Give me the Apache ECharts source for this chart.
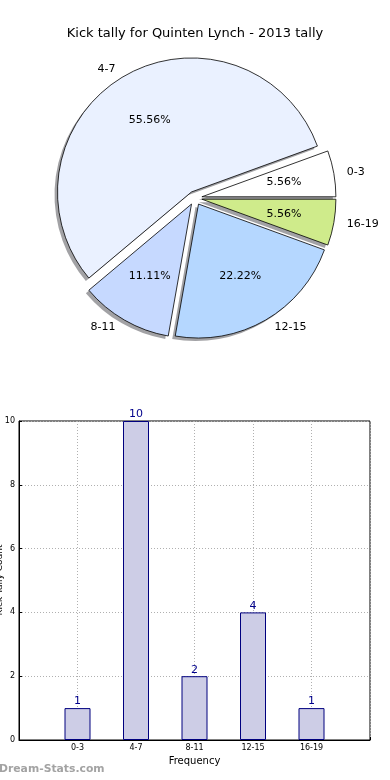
<!DOCTYPE html>
<html>
<head>
<meta charset="utf-8">
<script src="https://cdn.jsdelivr.net/npm/echarts@6/dist/echarts.min.js"></script>
<style>
html,body{margin:0;padding:0;background:#fff;}
#chart{width:390px;height:780px;}
</style>
</head>
<body>
<div id="chart"></div>
<script>
const titleText = 'Kick tally for Quinten Lynch - 2013 tally';
const categories = ['0-3', '4-7', '8-11', '12-15', '16-19'];
const counts = [1, 10, 2, 4, 1];
const pieColors = ['#ffffff', '#eaf1ff', '#c6d9ff', '#b5d7ff', '#cfeb8b'];
const yTicks = [0, 2, 4, 6, 8, 10];
const xAxisName = 'Frequency';
const yAxisName = 'Kick Tally Count';
const watermark = 'Dream-Stats.com';

const FONT = 'DejaVu Sans';
const total = counts.reduce((a, b) => a + b, 0);
const pieData = categories.map((c, i) => ({
  name: c, value: counts[i], selected: true,
  itemStyle: { color: pieColors[i] }
}));
const plainData = categories.map((c, i) => ({
  name: c, value: counts[i], selected: true
}));
const barCats = [''].concat(categories, ['']);
const barVals = ['-'].concat(counts, ['-']);

const CX = 195, CY = 198, R = 134;
const pieCommon = {
  type: 'pie', startAngle: 0, clockwise: false,
  selectedMode: 'multiple', selectedOffset: 7,
  avoidLabelOverlap: false, silent: true,
  emphasis: { disabled: true }
};

const chart = echarts.init(document.getElementById('chart'), null, { renderer: 'canvas' });
chart.setOption({
  animation: false,
  backgroundColor: '#ffffff',
  title: {
    text: titleText, left: 'center', top: 22,
    textStyle: { fontFamily: FONT, fontSize: 13, fontWeight: 'normal', color: '#000' }
  },
  graphic: [
    {
      type: 'text', left: -1, top: 764,
      style: { text: watermark, fontFamily: FONT, fontSize: 10.8, fontWeight: 'bold', fill: '#a3a3a3' }
    },
    {
      type: 'text', x: 0, y: 580, rotation: Math.PI / 2,
      style: { text: yAxisName, fontFamily: FONT, fontSize: 9, fill: '#000', align: 'center', verticalAlign: 'middle' }
    }
  ],
  grid: {
    left: 19, right: 20, top: 421, bottom: 40,
    outerBoundsMode: 'none', containLabel: false,
    show: true, borderColor: '#000', borderWidth: 1, backgroundColor: 'transparent'
  },
  xAxis: {
    type: 'category', data: barCats, boundaryGap: false,
    name: xAxisName, nameLocation: 'middle', nameGap: 16,
    nameTextStyle: { fontFamily: FONT, fontSize: 10, color: '#000' },
    axisLine: { lineStyle: { color: '#000' } },
    axisTick: { inside: true, length: 3, lineStyle: { color: '#000' } },
    axisLabel: { fontFamily: FONT, fontSize: 8, color: '#000', margin: 4, interval: 0 },
    splitLine: { show: true, lineStyle: { color: '#b0b0b0', type: [1, 2] } }
  },
  yAxis: {
    type: 'value', min: yTicks[0], max: yTicks[yTicks.length - 1], interval: 2,
    axisLine: { show: true, lineStyle: { color: '#000' } },
    axisTick: { show: true, inside: true, length: 3, lineStyle: { color: '#000' } },
    axisLabel: { fontFamily: FONT, fontSize: 8, color: '#000', margin: 4 },
    splitLine: { show: true, lineStyle: { color: '#b0b0b0', type: [1, 2] } }
  },
  series: [
    Object.assign({}, pieCommon, {
      name: 'shadow', center: [CX - 3, CY + 3], radius: [0, R], z: 1,
      data: plainData,
      itemStyle: { color: 'rgba(70,70,75,0.5)', borderWidth: 0 },
      label: { show: false }, labelLine: { show: false }
    }),
    Object.assign({}, pieCommon, {
      name: 'pie', center: [CX, CY], radius: [0, R], z: 2,
      data: pieData,
      itemStyle: { borderColor: '#000', borderWidth: 0.8 },
      label: {
        show: true, position: 'outside', formatter: '{b}',
        fontFamily: FONT, fontSize: 11, color: '#000'
      },
      labelLine: { show: false, length: 8, length2: 0 }
    }),
    Object.assign({}, pieCommon, {
      name: 'pct', center: [CX, CY], radius: [R * 0.2, R], z: 3,
      data: plainData,
      itemStyle: { color: 'rgba(0,0,0,0)', borderWidth: 0 },
      label: {
        show: true, position: 'inside',
        formatter: p => (p.value / total * 100).toFixed(2) + '%',
        fontFamily: FONT, fontSize: 11, color: '#000'
      },
      labelLine: { show: false }
    }),
    {
      type: 'bar', data: barVals, barWidth: 26,
      itemStyle: { color: '#cdcde6', borderColor: '#00007f', borderWidth: 1 },
      label: {
        show: true, position: 'top', distance: 1,
        fontFamily: FONT, fontSize: 11, color: '#00008b'
      },
      emphasis: { disabled: true }
    }
  ]
});
</script>
</body>
</html>
